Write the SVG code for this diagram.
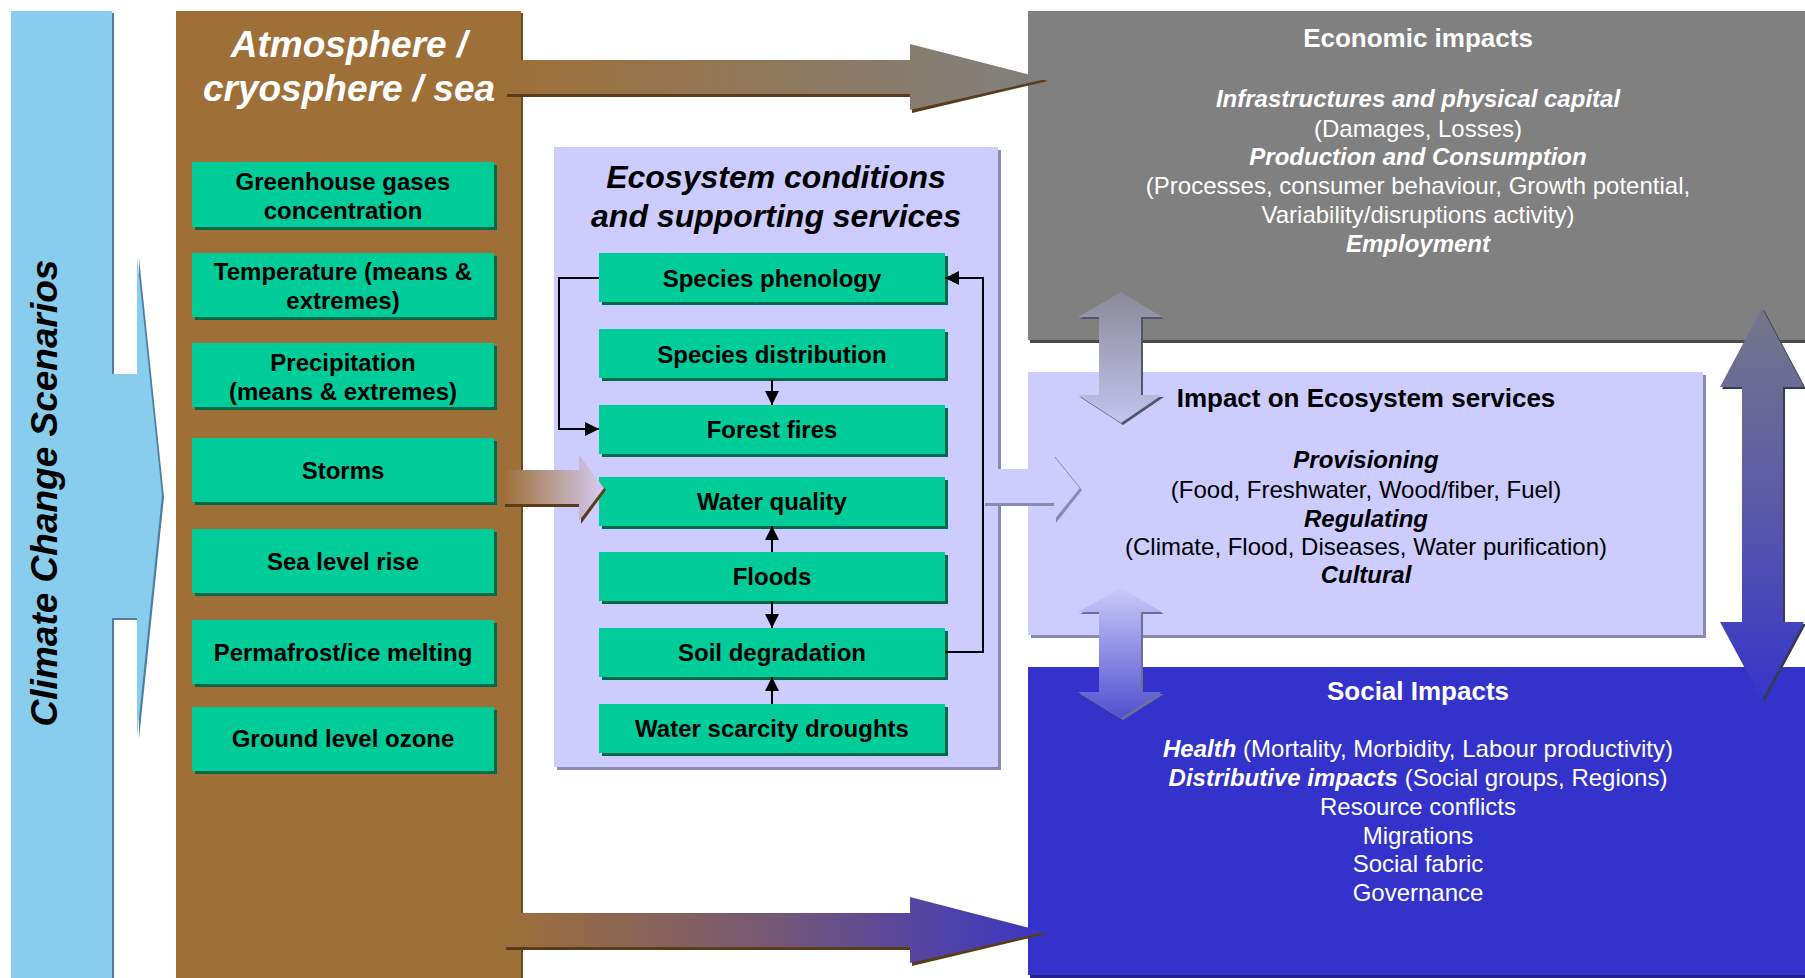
<svg xmlns="http://www.w3.org/2000/svg" width="1805" height="978" viewBox="0 0 1805 978">
<defs>
<style>
.t{font-family:"Liberation Sans",Arial,sans-serif;}
.gb{fill:#00CC99;}
.gs{fill:#006B4A;}
.bt{font-family:"Liberation Sans",Arial,sans-serif;font-weight:bold;font-size:24px;fill:#000;text-anchor:middle;}
.w{fill:#fff;}
.c{text-anchor:middle;}
.b{font-weight:bold;}
.bi{font-weight:bold;font-style:italic;}
.f24{font-size:24px;}
.f26{font-size:26px;}
.ln{fill:none;stroke:#000;stroke-width:2;}
</style>
<marker id="ah" markerUnits="userSpaceOnUse" markerWidth="14" markerHeight="14" viewBox="0 0 14 14" refX="14" refY="7" orient="auto">
<path d="M0,0 L14,7 L0,14 z" fill="#000"/>
</marker>
<linearGradient id="gTop" gradientUnits="userSpaceOnUse" x1="507" y1="0" x2="1046" y2="0">
<stop offset="0" stop-color="#9E7038"/><stop offset="1" stop-color="#808080"/>
</linearGradient>
<linearGradient id="gBot" gradientUnits="userSpaceOnUse" x1="506" y1="0" x2="1045" y2="0">
<stop offset="0" stop-color="#9E7038"/><stop offset="0.45" stop-color="#7A5A70"/><stop offset="1" stop-color="#3A36C4"/>
</linearGradient>
<linearGradient id="gStorm" gradientUnits="userSpaceOnUse" x1="505" y1="0" x2="604" y2="0">
<stop offset="0" stop-color="#9E7038"/><stop offset="1" stop-color="#D4CCF4"/>
</linearGradient>
<linearGradient id="gA" gradientUnits="userSpaceOnUse" x1="0" y1="292" x2="0" y2="423">
<stop offset="0" stop-color="#8A8A9A"/><stop offset="1" stop-color="#C4C4EE"/>
</linearGradient>
<linearGradient id="gB" gradientUnits="userSpaceOnUse" x1="0" y1="588" x2="0" y2="718">
<stop offset="0" stop-color="#CACAFA"/><stop offset="1" stop-color="#5050D0"/>
</linearGradient>
<linearGradient id="gC" gradientUnits="userSpaceOnUse" x1="0" y1="308" x2="0" y2="700">
<stop offset="0" stop-color="#76768A"/><stop offset="0.5" stop-color="#5A5AA8"/><stop offset="1" stop-color="#3535CA"/>
</linearGradient>
</defs>

<rect width="1805" height="978" fill="#fff"/>

<!-- Climate Change Scenarios -->
<g id="climate-scenarios">
<polygon points="13,13 114,13 114,376 139,376 139,258 164,497 139,739 139,620 114,620 114,978 13,978" fill="#4F7FA0"/>
<polygon points="11,11 112,11 112,374 137,374 137,256 162,495 137,737 137,618 112,618 112,978 11,978" fill="#88CCEE"/>
<text class="t bi" font-size="37" transform="translate(57,493) rotate(-90)" text-anchor="middle" fill="#000">Climate Change Scenarios</text>
</g>

<!-- Atmosphere column -->
<g id="atmosphere">
<rect x="178" y="13" width="345" height="965" fill="#6B4A22"/>
<rect x="176" y="11" width="345" height="967" fill="#9E7038"/>
<text class="t bi c w" font-size="37" x="349" y="57">Atmosphere /</text>
<text class="t bi c w" font-size="37" x="349" y="101">cryosphere / sea</text>
</g>

<g id="greenhouse-gases">
<rect class="gs" x="195" y="165" width="302" height="65"/>
<rect class="gb" x="192" y="162" width="302" height="65"/>
<text class="bt" x="343" y="190">Greenhouse gases</text>
<text class="bt" x="343" y="219">concentration</text>
</g>
<g id="temperature">
<rect class="gs" x="195" y="256" width="302" height="64"/>
<rect class="gb" x="192" y="253" width="302" height="64"/>
<text class="bt" x="343" y="280">Temperature (means &amp;</text>
<text class="bt" x="343" y="309">extremes)</text>
</g>
<g id="precipitation">
<rect class="gs" x="195" y="346" width="302" height="64"/>
<rect class="gb" x="192" y="343" width="302" height="64"/>
<text class="bt" x="343" y="371">Precipitation</text>
<text class="bt" x="343" y="400">(means &amp; extremes)</text>
</g>
<g id="storms">
<rect class="gs" x="195" y="441" width="302" height="64"/>
<rect class="gb" x="192" y="438" width="302" height="64"/>
<text class="bt" x="343" y="479">Storms</text>
</g>
<g id="sea-level-rise">
<rect class="gs" x="195" y="532" width="302" height="64"/>
<rect class="gb" x="192" y="529" width="302" height="64"/>
<text class="bt" x="343" y="570">Sea level rise</text>
</g>
<g id="permafrost">
<rect class="gs" x="195" y="623" width="302" height="64"/>
<rect class="gb" x="192" y="620" width="302" height="64"/>
<text class="bt" x="343" y="661">Permafrost/ice melting</text>
</g>
<g id="ground-level-ozone">
<rect class="gs" x="195" y="710" width="302" height="64"/>
<rect class="gb" x="192" y="707" width="302" height="64"/>
<text class="bt" x="343" y="747">Ground level ozone</text>
</g>

<!-- Economic impacts -->
<g id="economic-impacts">
<rect x="1030" y="14" width="775" height="329" fill="#4A4A4A"/>
<rect x="1028" y="11" width="777" height="329" fill="#808080"/>
<g class="t c w f24">
<text class="b f26" x="1418" y="47">Economic impacts</text>
<text class="bi" x="1418" y="107">Infrastructures and physical capital</text>
<text x="1418" y="137">(Damages, Losses)</text>
<text class="bi" x="1418" y="165">Production and Consumption</text>
<text x="1418" y="194">(Processes, consumer behaviour, Growth potential,</text>
<text x="1418" y="223">Variability/disruptions activity)</text>
<text class="bi" x="1418" y="252">Employment</text>
</g>
</g>

<!-- Impact on Ecosystem services -->
<g id="impact-ecosystem-services">
<rect x="1031" y="375" width="675" height="263" fill="#8A8AAE"/>
<rect x="1028" y="372" width="675" height="263" fill="#CCCCFF"/>
<g class="t c f24" fill="#000">
<text class="b f26" x="1366" y="407">Impact on Ecosystem services</text>
<text class="bi" x="1366" y="468">Provisioning</text>
<text x="1366" y="498">(Food, Freshwater, Wood/fiber, Fuel)</text>
<text class="bi" x="1366" y="527">Regulating</text>
<text x="1366" y="555">(Climate, Flood, Diseases, Water purification)</text>
<text class="bi" x="1366" y="583">Cultural</text>
</g>
</g>

<!-- Social Impacts -->
<g id="social-impacts">
<rect x="1030" y="670" width="775" height="308" fill="#22228A"/>
<rect x="1028" y="667" width="777" height="308" fill="#3333CC"/>
<g class="t c w f24">
<text class="b f26" x="1418" y="700">Social Impacts</text>
<text x="1418" y="757"><tspan class="bi">Health</tspan> (Mortality, Morbidity, Labour productivity)</text>
<text x="1418" y="786"><tspan class="bi">Distributive impacts</tspan> (Social groups, Regions)</text>
<text x="1418" y="815">Resource conflicts</text>
<text x="1418" y="844">Migrations</text>
<text x="1418" y="872">Social fabric</text>
<text x="1418" y="901">Governance</text>
</g>
</g>

<!-- Ecosystem conditions panel -->
<g id="ecosystem-conditions">
<rect x="557" y="150" width="444" height="620" fill="#8A8AAE"/>
<rect x="554" y="147" width="444" height="620" fill="#CCCCFF"/>
<text class="t bi c" font-size="32" x="776" y="188" fill="#000">Ecosystem conditions</text>
<text class="t bi c" font-size="32" x="776" y="227" fill="#000">and supporting services</text>
</g>
<g id="species-phenology">
<rect class="gs" x="602" y="256" width="346" height="49"/>
<rect class="gb" x="599" y="253" width="346" height="49"/>
<text class="bt" x="772" y="287">Species phenology</text>
</g>
<g id="species-distribution">
<rect class="gs" x="602" y="332" width="346" height="49"/>
<rect class="gb" x="599" y="329" width="346" height="49"/>
<text class="bt" x="772" y="363">Species distribution</text>
</g>
<g id="forest-fires">
<rect class="gs" x="602" y="408" width="346" height="49"/>
<rect class="gb" x="599" y="405" width="346" height="49"/>
<text class="bt" x="772" y="438">Forest fires</text>
</g>
<g id="water-quality">
<rect class="gs" x="602" y="480" width="346" height="49"/>
<rect class="gb" x="599" y="477" width="346" height="49"/>
<text class="bt" x="772" y="510">Water quality</text>
</g>
<g id="floods">
<rect class="gs" x="602" y="555" width="346" height="49"/>
<rect class="gb" x="599" y="552" width="346" height="49"/>
<text class="bt" x="772" y="585">Floods</text>
</g>
<g id="soil-degradation">
<rect class="gs" x="602" y="631" width="346" height="49"/>
<rect class="gb" x="599" y="628" width="346" height="49"/>
<text class="bt" x="772" y="661">Soil degradation</text>
</g>
<g id="water-scarcity">
<rect class="gs" x="602" y="707" width="346" height="49"/>
<rect class="gb" x="599" y="704" width="346" height="49"/>
<text class="bt" x="772" y="737">Water scarcity droughts</text>
</g>

<!-- Connectors -->
<g id="connectors">
<!-- small black connectors -->
<path class="ln" d="M599,278 H559 V429 H599" marker-end="url(#ah)"/>
<path class="ln" d="M772,380 V405" marker-end="url(#ah)"/>
<path class="ln" d="M772,552 V526" marker-end="url(#ah)"/>
<path class="ln" d="M772,601 V628" marker-end="url(#ah)"/>
<path class="ln" d="M772,704 V677" marker-end="url(#ah)"/>
<path class="ln" d="M945,652 H983 V278 H945" marker-end="url(#ah)"/>

<!-- top arrow: atmosphere -> economic -->
<polygon points="507,62 910,62 910,47 1048,81 912,113 912,97 507,97" fill="#5A3C1A"/>
<polygon points="507,60 910,60 910,44 1046,79 910,110 910,94 507,94" fill="url(#gTop)"/>
<!-- bottom arrow: atmosphere -> social -->
<polygon points="506,915 910,915 910,900 1047,934 912,966 912,950 506,950" fill="#5A3C1A"/>
<polygon points="506,913 910,913 910,897 1045,932 910,963 910,947 506,947" fill="url(#gBot)"/>
<!-- storms arrow -->
<polygon points="505,472 579,472 579,458 606,490 581,524 581,507 505,507" fill="#5A3C1A"/>
<polygon points="505,470 579,470 579,455 604,488 579,521 579,504 505,504" fill="url(#gStorm)"/>
<!-- ecosystem -> impact arrow -->
<polygon points="985,471 1054,471 1054,459 1082,490 1056,523 1056,506 985,506" fill="#8A8AAE"/>
<polygon points="985,469 1054,469 1054,456 1080,488 1054,520 1054,503 985,503" fill="#CCCCFF"/>
<line x1="1055" y1="457" x2="1080" y2="488" stroke="#8A8AAE" stroke-width="1"/>

<!-- double arrow economic <-> impact -->
<polygon points="1123,294 1164,319 1143,319 1143,397 1164,397 1123,425 1080,397 1101,397 1101,319 1080,319" fill="#55556A"/>
<polygon points="1121,292 1162,317 1141,317 1141,395 1162,395 1121,423 1078,395 1099,395 1099,317 1078,317" fill="url(#gA)"/>
<!-- double arrow impact <-> social -->
<polygon points="1123,590 1164,614 1143,614 1143,694 1164,694 1123,720 1080,694 1101,694 1101,614 1080,614" fill="#6E6E9A"/>
<polygon points="1121,588 1162,612 1141,612 1141,692 1162,692 1121,718 1078,692 1099,692 1099,612 1078,612" fill="url(#gB)"/>
<!-- right double arrow economic <-> social -->
<polygon points="1764,310 1806,389 1785,389 1785,624 1806,624 1764,702 1722,624 1744,624 1744,389 1722,389" fill="#3A3A55"/>
<polygon points="1762,308 1804,387 1783,387 1783,622 1804,622 1762,700 1720,622 1742,622 1742,387 1720,387" fill="url(#gC)"/>
</g>
</svg>
